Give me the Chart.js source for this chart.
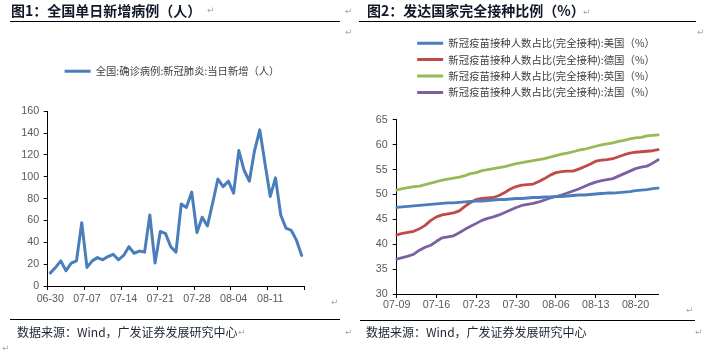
<!DOCTYPE html>
<html><head><meta charset="utf-8">
<script src="https://cdn.jsdelivr.net/npm/chart.js@4.4.1/dist/chart.umd.min.js"></script>
<style>
html,body{margin:0;padding:0;width:705px;height:353px;overflow:hidden;background:#fff;}
canvas{position:absolute;top:0;}
#c1{left:0;}
#c2{left:360px;}
.t{position:absolute;white-space:nowrap;font-family:"Noto Sans CJK SC";}
.title{font-size:14px;font-weight:bold;color:#111827;line-height:16px;}
.src{font-size:12px;color:#1c2533;line-height:14px;}
.ret{position:absolute;font-family:"DejaVu Sans";font-size:9px;color:#a6a6a6;line-height:10px;}
.rule{position:absolute;height:0;border-top:1.5px solid #000;}
</style></head>
<body>
<canvas id="c1" width="344" height="353"></canvas>
<canvas id="c2" width="352" height="353"></canvas>

<div class="t title" style="left:11px;top:2px">图1：全国单日新增病例（人）</div>
<div class="t title" style="left:367px;top:2px">图2：发达国家完全接种比例（%）</div>
<div class="rule" style="left:10px;top:21px;width:330px"></div>
<div class="rule" style="left:359px;top:21px;width:337px"></div>
<div class="rule" style="left:10px;top:319px;width:330px"></div>
<div class="rule" style="left:360px;top:320px;width:335px"></div>
<div class="t src" style="left:17px;top:325px">数据来源：Wind，广发证券发展研究中心</div>
<div class="t src" style="left:366px;top:325px">数据来源：Wind，广发证券发展研究中心</div>

<div class="ret" style="left:207px;top:5px">↵</div>
<div class="ret" style="left:345px;top:6px">↵</div>
<div class="ret" style="left:345px;top:27px">↵</div>
<div class="ret" style="left:331px;top:297px">↵</div>
<div class="ret" style="left:238px;top:327px">↵</div>
<div class="ret" style="left:345px;top:327px">↵</div>
<div class="ret" style="left:2px;top:343px">↵</div>
<div class="ret" style="left:583px;top:7px">↵</div>
<div class="ret" style="left:697px;top:27px">↵</div>
<div class="ret" style="left:686px;top:305px">↵</div>
<div class="ret" style="left:538px;top:327px">↵</div>
<div class="ret" style="left:695px;top:327px">↵</div>

<script>
// ---------- Data ----------
const leftLabels = ['06-30','07-01','07-02','07-03','07-04','07-05','07-06','07-07','07-08','07-09','07-10','07-11','07-12','07-13','07-14','07-15','07-16','07-17','07-18','07-19','07-20','07-21','07-22','07-23','07-24','07-25','07-26','07-27','07-28','07-29','07-30','07-31','08-01','08-02','08-03','08-04','08-05','08-06','08-07','08-08','08-09','08-10','08-11','08-12','08-13','08-14','08-15','08-16','08-17'];
const chinaNewCases = [12,17,23,14,21,23,58,17,23,26,24,27,29,24,28,36,30,32,31,65,21,50,48,36,31,75,72,86,49,63,55,76,98,91,96,85,124,106,96,124,143,112,82,99,65,53,51,42,28];
const leftSeriesName = '全国:确诊病例:新冠肺炎:当日新增（人）';

const rightLabels = ['07-09','07-10','07-11','07-12','07-13','07-14','07-15','07-16','07-17','07-18','07-19','07-20','07-21','07-22','07-23','07-24','07-25','07-26','07-27','07-28','07-29','07-30','07-31','08-01','08-02','08-03','08-04','08-05','08-06','08-07','08-08','08-09','08-10','08-11','08-12','08-13','08-14','08-15','08-16','08-17','08-18','08-19','08-20','08-21','08-22','08-23','08-24'];
const usVacc = [47.4,47.5,47.6,47.7,47.8,47.9,48.0,48.1,48.2,48.3,48.3,48.4,48.5,48.6,48.7,48.7,48.8,48.9,49.0,49.0,49.1,49.2,49.2,49.3,49.4,49.4,49.5,49.5,49.6,49.6,49.7,49.8,49.9,49.9,50.0,50.1,50.2,50.3,50.3,50.4,50.5,50.6,50.8,50.9,51.0,51.2,51.3];
const deVacc = [41.9,42.2,42.4,42.6,43.1,43.8,44.8,45.5,45.9,46.1,46.3,46.7,47.6,48.4,49.0,49.2,49.3,49.4,49.8,50.4,51.1,51.6,51.9,52.0,52.1,52.6,53.2,53.9,54.4,54.6,54.7,54.7,55.1,55.6,56.1,56.7,56.9,57.0,57.2,57.6,58.0,58.3,58.5,58.6,58.7,58.8,59.0];
const ukVacc = [50.9,51.2,51.4,51.6,51.7,52.0,52.3,52.6,52.9,53.1,53.3,53.5,53.8,54.2,54.4,54.8,55.0,55.2,55.4,55.6,55.9,56.2,56.4,56.6,56.8,57.0,57.2,57.5,57.8,58.1,58.3,58.6,58.9,59.1,59.4,59.7,60.0,60.2,60.4,60.7,60.9,61.2,61.4,61.5,61.8,61.9,62.0];
const frVacc = [37.0,37.3,37.6,38.0,38.8,39.4,39.8,40.6,41.3,41.5,41.7,42.3,43.0,43.6,44.2,44.8,45.2,45.5,45.9,46.4,46.9,47.4,47.8,48.0,48.2,48.5,48.9,49.3,49.6,49.9,50.3,50.7,51.1,51.6,52.1,52.5,52.8,53.0,53.2,53.7,54.2,54.7,55.2,55.5,55.7,56.3,57.0];
const rightSeriesNames = ['新冠疫苗接种人数占比(完全接种):美国（%）','新冠疫苗接种人数占比(完全接种):德国（%）','新冠疫苗接种人数占比(完全接种):英国（%）','新冠疫苗接种人数占比(完全接种):法国（%）'];

const leftYTicks = {min:0, max:160, step:20};
const rightYTicks = {min:30, max:65, step:5};

// ---------- Helpers ----------
const TICK_FONT = {family:'"Liberation Sans", Arial, sans-serif', size:10.7};
function genLabels(chart){
  const items = Chart.defaults.plugins.legend.labels.generateLabels(chart);
  items.forEach(it=>{ it.fillStyle = it.strokeStyle; it.lineWidth = 0; });
  return items;
}
function mkChart(id, labels, datasets, o){
  return new Chart(document.getElementById(id), {
    type:'line',
    data:{labels, datasets},
    options:{
      responsive:false, animation:false, devicePixelRatio:1,
      layout:{padding:{left:0,right:0,top:o.padTop,bottom:o.padBottom}},
      plugins:{
        legend:{display:true, position:'top', labels:{boxWidth:26, boxHeight:3, padding:6, color:'#404040',
          font:{family:'"Noto Sans CJK SC", sans-serif', size:o.legendSize}, generateLabels:genLabels}},
        tooltip:{enabled:false}, title:{display:false}
      },
      elements:{point:{radius:0, hoverRadius:0}, line:{tension:0, borderCapStyle:'round', borderJoinStyle:'round'}},
      scales:{
        x:{type:'category', offset:o.offset,
          grid:{display:true, drawOnChartArea:false, drawTicks:true, tickLength:4, offset:o.offset, tickWidth:1,
            tickColor: c => (c.type!=='tick' || c.index%7===0) ? '#000' : 'rgba(0,0,0,0)'},
          border:{display:true, color:'#000', width:1},
          ticks:{autoSkip:false, maxRotation:0, minRotation:0, padding:o.xPad, color:'#595959', font:TICK_FONT,
            callback:function(v,i){ return i%7===0 ? this.getLabelForValue(v) : ''; }},
          afterFit:s=>{ s.height = 20; }},
        x2:{type:'linear', axis:'x', position:'top', display:true, grid:{display:false}, border:{display:false},
          ticks:{display:false}, afterFit:s=>{ s.height = o.gap; }},
        y:{type:'linear', position:'left', min:o.y.min, max:o.y.max,
          ticks:{stepSize:o.y.step, padding:o.yPad, color:'#595959', font:TICK_FONT},
          grid:{display:true, drawOnChartArea:false, drawTicks:true, tickLength:4, tickColor:'#000'},
          border:{display:true, color:'#000', width:1},
          afterFit:s=>{ s.width = o.leftW; }},
        y2:{type:'linear', axis:'y', position:'right', display:true, grid:{display:false}, border:{display:false},
          ticks:{display:false}, afterFit:s=>{ s.width = o.rightW; }}
      }
    }
  });
}

mkChart('c1', leftLabels, [
  {label:leftSeriesName, data:chinaNewCases, borderColor:'#4A7EBB', backgroundColor:'#4A7EBB', borderWidth:3, xAxisID:'x', yAxisID:'y'}
], {padTop:60, padBottom:47, gap:25, leftW:47.7, rightW:39.7, offset:true, xPad:3, yPad:4.5, legendSize:10.3, y:leftYTicks});

const rightColors = ['#4A7EBB','#BE4B48','#98B954','#7D60A0'];
const rightData = [usVacc, deVacc, ukVacc, frVacc];
mkChart('c2', rightLabels, rightData.map((d,k)=>({
  label:rightSeriesNames[k], data:d, borderColor:rightColors[k], backgroundColor:rightColors[k], borderWidth:2.8, xAxisID:'x', yAxisID:'y'
})), {padTop:32, padBottom:39, gap:12.3, leftW:36.7, rightW:53.7, offset:false, xPad:1, yPad:5, legendSize:10.4, y:rightYTicks});
</script>
</body></html>
